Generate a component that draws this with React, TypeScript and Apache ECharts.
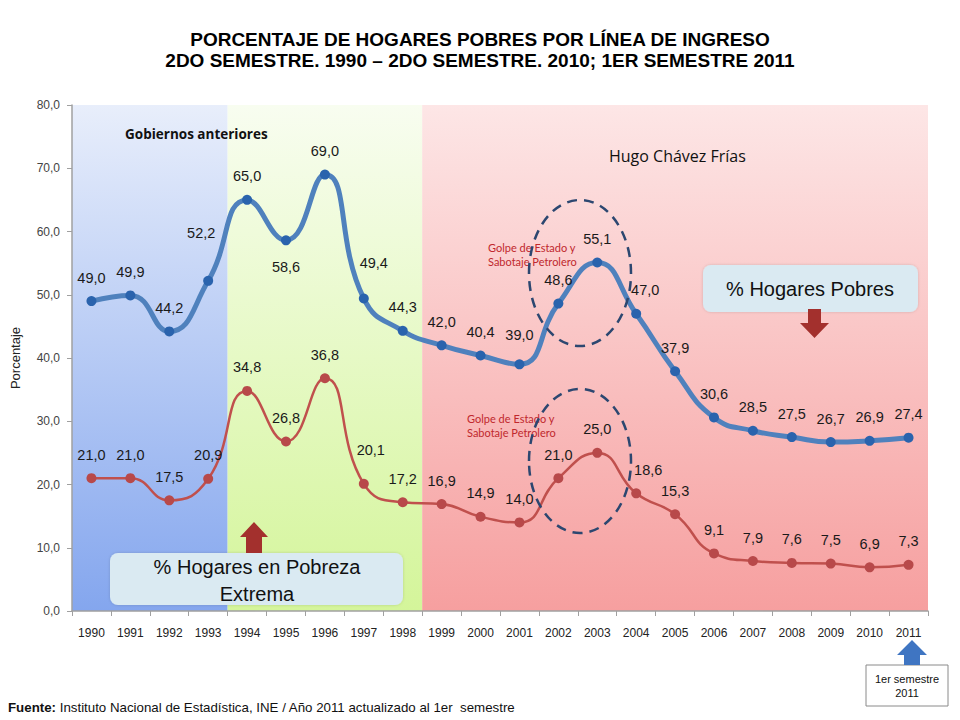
import React, { useEffect, useRef } from "react";
import * as echarts from "echarts";

const years = ["1990","1991","1992","1993","1994","1995","1996","1997","1998","1999","2000","2001","2002","2003","2004","2005","2006","2007","2008","2009","2010","2011"];
const pobres = [49.0,49.9,44.2,52.2,65.0,58.6,69.0,49.4,44.3,42.0,40.4,39.0,48.6,55.1,47.0,37.9,30.6,28.5,27.5,26.7,26.9,27.4];
const extrema = [21.0,21.0,17.5,20.9,34.8,26.8,36.8,20.1,17.2,16.9,14.9,14.0,21.0,25.0,18.6,15.3,9.1,7.9,7.6,7.5,6.9,7.3];
// periods: [first index, last index, colour key]
const periods = [[0,3,0],[4,8,1],[9,21,2]];
const yTicks = { min: 0, max: 80, interval: 10 };

const fmt = (v: number) => v.toFixed(1).replace(".", ",");

const pobresLabelTweaks: Record<number, any> = {
  3: { offset: [-7, -24] },
  5: { position: "bottom", distance: 14 },
  7: { offset: [10, -12] },
  11: { offset: [0, -6] },
  14: { offset: [9, 0] },
};
const extremaLabelTweaks: Record<number, any> = {
  7: { offset: [7, -10] },
  14: { offset: [12, 0] },
};

export default function App() {
  const ref = useRef<HTMLDivElement>(null);
  useEffect(() => {
    document.body.style.margin = "0";
    const chart = echarts.init(ref.current!, null, { renderer: "svg" });
    const grads = [
      new echarts.graphic.LinearGradient(0, 0, 0, 1, [
        { offset: 0, color: "#e8eefb" },
        { offset: 1, color: "#84a6ee" },
      ]),
      new echarts.graphic.LinearGradient(0, 0, 0, 1, [
        { offset: 0, color: "#f8fdf0" },
        { offset: 1, color: "#d4f59a" },
      ]),
      new echarts.graphic.LinearGradient(0, 0, 0, 1, [
        { offset: 0, color: "#fde6e6" },
        { offset: 1, color: "#f69f9f" },
      ]),
    ];
    const font = "Liberation Sans, Arial, sans-serif";
    const mkLabel = (tweaks: Record<number, any>) => (v: number, i: number) => ({
      value: v,
      label: tweaks[i] ? { ...tweaks[i] } : undefined,
    });
    const option: any = {
      animation: false,
      backgroundColor: "#ffffff",
      title: {
        text: "PORCENTAJE DE HOGARES POBRES POR LÍNEA DE INGRESO\n2DO SEMESTRE. 1990 – 2DO SEMESTRE. 2010; 1ER SEMESTRE 2011",
        left: "center",
        top: 24,
        textStyle: { fontFamily: font, fontWeight: "bold", fontSize: 19, lineHeight: 21, color: "#000" },
      },
      grid: { left: 72, right: 32, top: 105, bottom: 109, outerBoundsMode: "none", containLabel: false },
      xAxis: {
        type: "category",
        data: years,
        boundaryGap: true,
        axisLine: { lineStyle: { color: "#a0a0a0", width: 1.5 } },
        axisTick: { show: true, interval: 0, length: 5, lineStyle: { color: "#a0a0a0" } },
        axisLabel: { interval: 0, margin: 16, fontFamily: "Liberation Sans Narrow, Liberation Sans, Arial", fontSize: 12, color: "#222" },
      },
      yAxis: {
        type: "value",
        min: yTicks.min,
        max: yTicks.max,
        interval: yTicks.interval,
        name: "Porcentaje",
        nameLocation: "middle",
        nameRotate: 90,
        nameGap: 50,
        nameTextStyle: { fontFamily: font, fontSize: 13, color: "#222" },
        axisLine: { show: true, lineStyle: { color: "#a0a0a0", width: 1.5 } },
        axisTick: { show: true, length: 5, lineStyle: { color: "#a0a0a0" } },
        splitLine: { show: false },
        axisLabel: { formatter: (v: number) => fmt(v), fontFamily: font, fontSize: 12, color: "#444", margin: 12 },
      },
      series: [
        {
          type: "custom",
          silent: true,
          z: 0,
          data: periods,
          encode: { x: [0, 1] },
          renderItem: (params: any, api: any) => {
            const s = api.value(0), e = api.value(1), k = api.value(2);
            const bw = api.size([1, 0])[0];
            const p0 = api.coord([s, yTicks.max]);
            const p1 = api.coord([e, yTicks.min]);
            return {
              type: "rect",
              shape: { x: p0[0] - bw / 2, y: p0[1], width: p1[0] - p0[0] + bw, height: p1[1] - p0[1] },
              style: { fill: grads[k] },
            };
          },
        },
        {
          name: "% Hogares Pobres",
          type: "line",
          z: 3,
          smooth: 0.5,
          data: pobres.map(mkLabel(pobresLabelTweaks)),
          symbol: "circle",
          symbolSize: 10,
          itemStyle: { color: "#2a63ad" },
          lineStyle: { color: "#4f81bd", width: 5 },
          label: { show: true, position: "top", distance: 11, formatter: (p: any) => fmt(p.value), fontFamily: font, fontSize: 14.5, color: "#1a1a1a" },
        },
        {
          name: "% Hogares en Pobreza Extrema",
          type: "line",
          z: 3,
          smooth: 0.5,
          data: extrema.map(mkLabel(extremaLabelTweaks)),
          symbol: "circle",
          symbolSize: 10,
          itemStyle: { color: "#b8494a" },
          lineStyle: { color: "#c0504d", width: 2.5 },
          label: { show: true, position: "top", distance: 11, formatter: (p: any) => fmt(p.value), fontFamily: font, fontSize: 14.5, color: "#1a1a1a" },
        },
      ],
      graphic: [
        { type: "text", left: 125, top: 127, style: { text: "Gobiernos anteriores", font: "bold 13.5px Open Sans, Lato, sans-serif", fill: "#111" }, z: 10 },
        { type: "text", left: 609, top: 148, style: { text: "Hugo Chávez Frías", font: "16px Open Sans, Lato, sans-serif", fill: "#111" }, z: 10 },
        { type: "text", left: 488, top: 240, style: { text: "Golpe de Estado y\nSabotaje Petrolero", font: "11px Lato, Open Sans, sans-serif", lineHeight: 14, fill: "#c0282d" }, z: 10 },
        { type: "text", left: 467, top: 411, style: { text: "Golpe de Estado y\nSabotaje Petrolero", font: "11px Lato, Open Sans, sans-serif", lineHeight: 14, fill: "#c0282d" }, z: 10 },
        { type: "ellipse", shape: { cx: 580, cy: 273, rx: 51, ry: 73 }, style: { fill: "none", stroke: "#2c4770", lineWidth: 2.5, lineDash: [10, 7] }, z: 10 },
        { type: "ellipse", shape: { cx: 580, cy: 461, rx: 51, ry: 72 }, style: { fill: "none", stroke: "#2c4770", lineWidth: 2.5, lineDash: [10, 7] }, z: 10 },
        // % Hogares Pobres box
        { type: "rect", shape: { x: 703, y: 265, width: 215, height: 47, r: 8 }, style: { fill: "#daeaf2", shadowBlur: 3, shadowColor: "rgba(0,0,0,0.15)" }, z: 10 },
        { type: "text", x: 810, y: 289, style: { text: "% Hogares Pobres", font: "20px Liberation Sans, Arial", fill: "#111", align: "center", verticalAlign: "middle" }, z: 11 },
        { type: "polygon", shape: { points: [[808, 309], [821, 309], [821, 323], [829, 323], [814.5, 338], [800, 323], [808, 323]] }, style: { fill: "#a3302d" }, z: 11 },
        // % Hogares en Pobreza Extrema box
        { type: "polygon", shape: { points: [[254, 522], [268, 537], [262, 537], [262, 553], [246, 553], [246, 537], [240, 537]] }, style: { fill: "#a3302d" }, z: 11 },
        { type: "rect", shape: { x: 110, y: 553, width: 293, height: 52, r: 8 }, style: { fill: "#daeaf2", shadowBlur: 3, shadowColor: "rgba(0,0,0,0.15)" }, z: 10 },
        { type: "text", x: 257, y: 580, style: { text: "% Hogares en Pobreza\nExtrema", font: "20px Liberation Sans, Arial", lineHeight: 27, fill: "#111", align: "center", verticalAlign: "middle" }, z: 11 },
        // 1er semestre box
        { type: "polygon", shape: { points: [[912, 640], [927, 655], [920, 655], [920, 665], [904, 665], [904, 655], [897, 655]] }, style: { fill: "#3f75c2" }, z: 11 },
        { type: "rect", shape: { x: 866, y: 665, width: 82, height: 41 }, style: { fill: "#ffffff", stroke: "#8a8a8a", lineWidth: 1 }, z: 10 },
        { type: "text", x: 907, y: 686, style: { text: "1er semestre\n2011", font: "11px Liberation Sans, Arial", lineHeight: 14, fill: "#111", align: "center", verticalAlign: "middle" }, z: 11 },
        // footer
        {
          type: "text", left: 8, top: 701, z: 10,
          style: {
            text: "{b|Fuente:} Instituto Nacional de Estadística, INE / Año 2011 actualizado al 1er  semestre",
            font: "13.3px Liberation Sans, Arial",
            fill: "#111",
            rich: { b: { fontWeight: "bold", fontSize: 13.3, fontFamily: "Liberation Sans, Arial", fill: "#111" } },
          },
        },
      ],
    };
    chart.setOption(option);
    return () => chart.dispose();
  }, []);
  return <div ref={ref} style={{ width: 960, height: 720 }} />;
}
